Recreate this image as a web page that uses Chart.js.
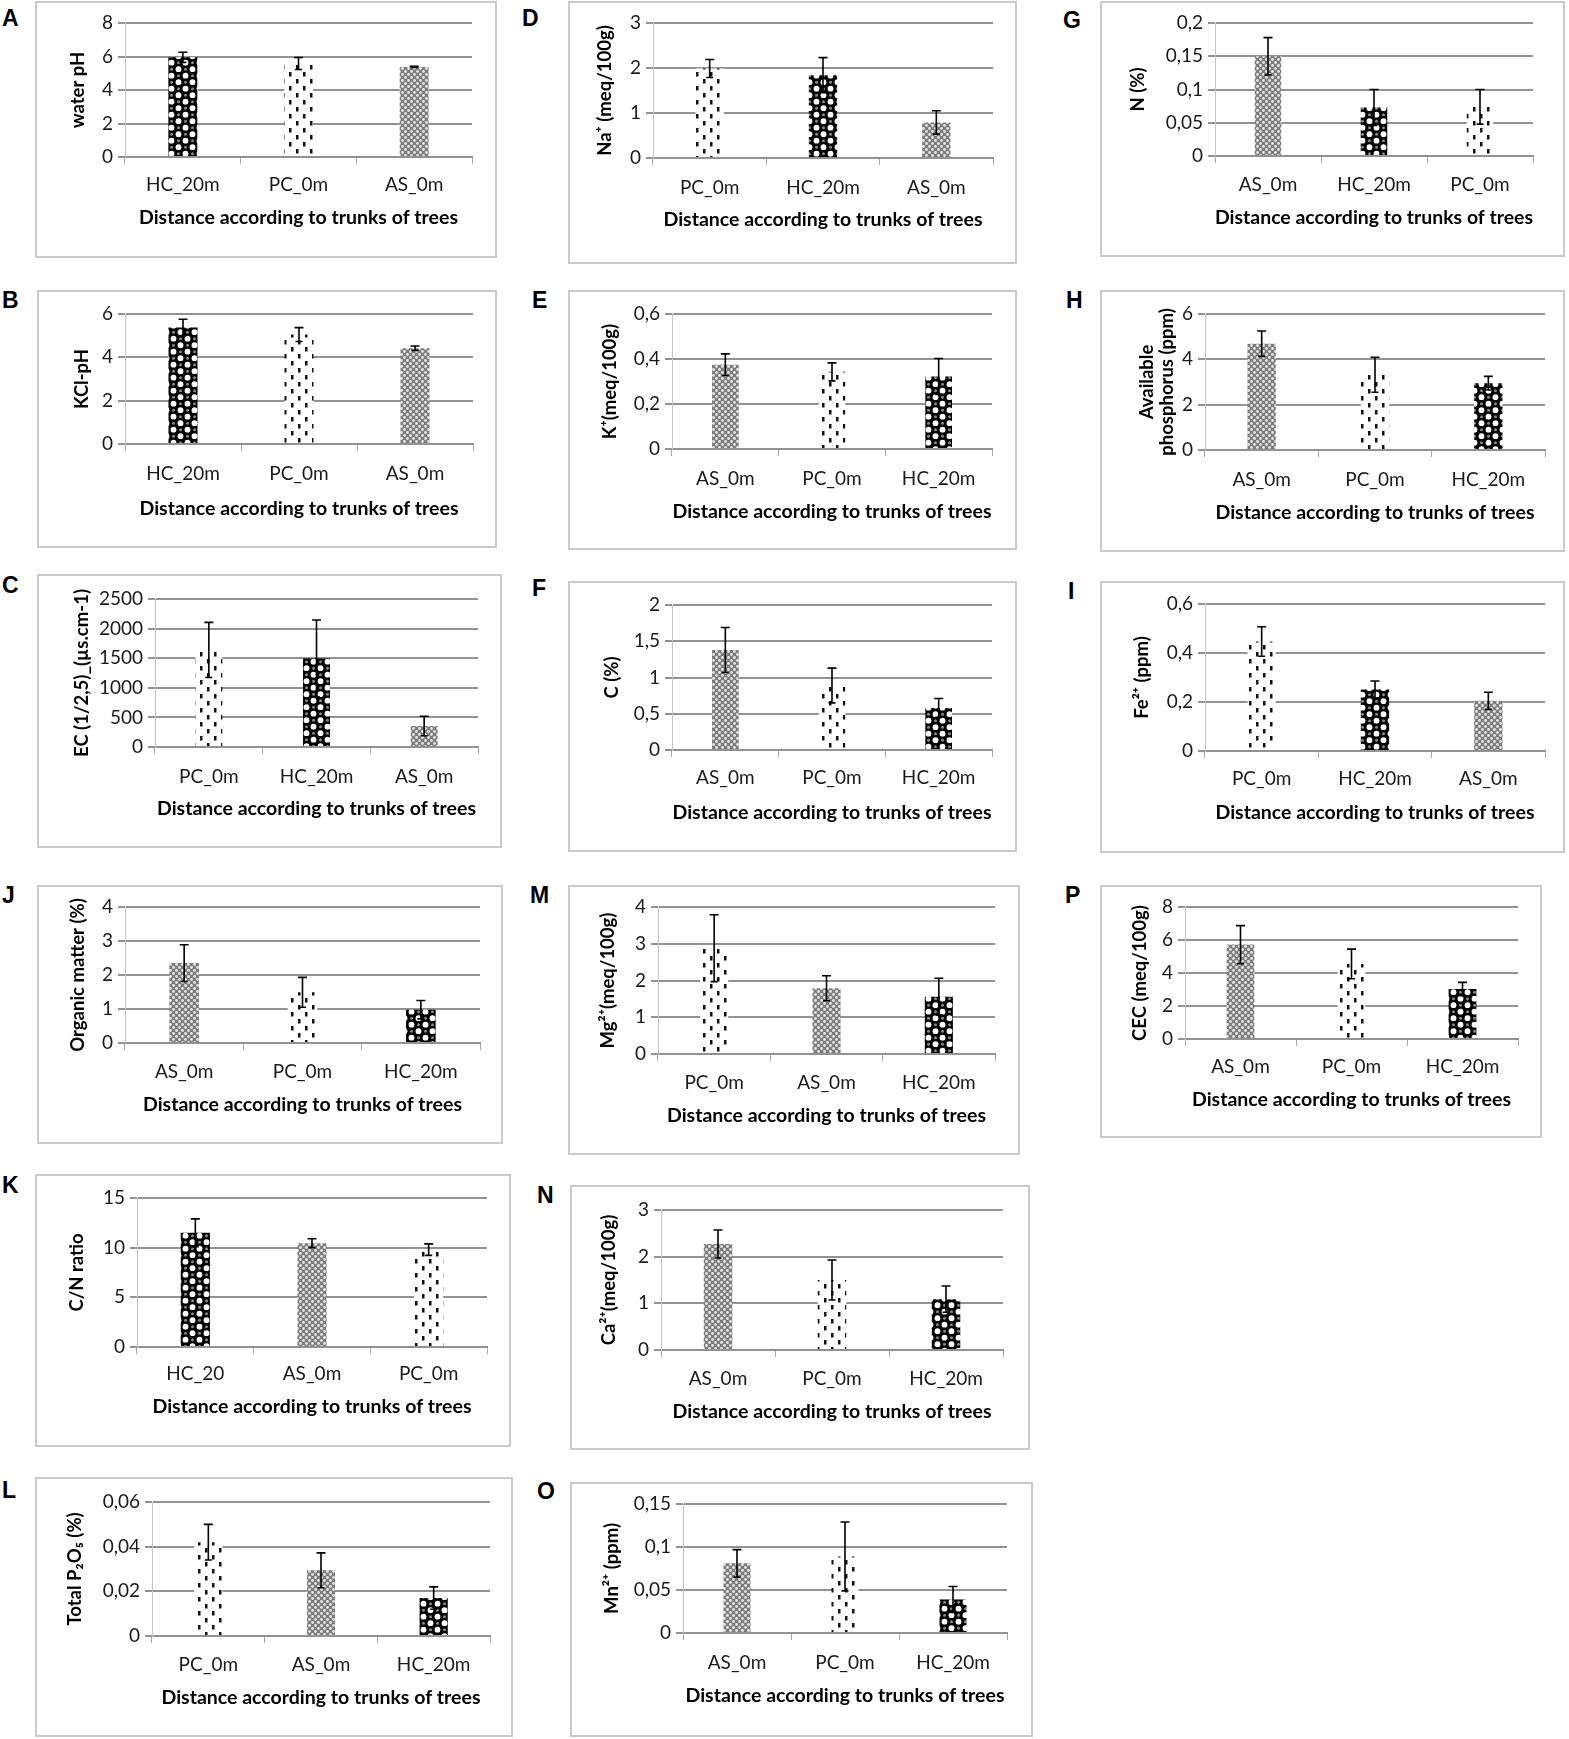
<!DOCTYPE html>
<html>
<head>
<meta charset="utf-8">
<script src="https://cdn.jsdelivr.net/npm/chart.js@4.4.1/dist/chart.umd.min.js"></script>
<style>
  body { margin: 0; background: #fff; width: 1569px; height: 1739px; position: relative; overflow: hidden; }
  .box { position: absolute; border: 2px solid #cacaca; box-sizing: border-box; }
  .box canvas { position: absolute; left: -2px; top: -2px; }
  .letter { position: absolute; font: bold 23px "Liberation Sans", Arial, sans-serif; color: #000; line-height: 1; }
</style>
</head>
<body>
<script>
// values: mean per site, error = +/- bar half length
const catsA = ['HC_20m', 'PC_0m', 'AS_0m'];
const valsA = [5.95, 5.58, 5.38];
const errsA = [0.3, 0.36, 0.04];
const yAxisA = [0, 8, 2];

const catsB = ['HC_20m', 'PC_0m', 'AS_0m'];
const valsB = [5.38, 5.05, 4.42];
const errsB = [0.38, 0.32, 0.1];
const yAxisB = [0, 6, 2];

const catsC = ['PC_0m', 'HC_20m', 'AS_0m'];
const valsC = [1640, 1495, 355];
const errsC = [465, 650, 165];
const yAxisC = [0, 2500, 500];

const catsD = ['PC_0m', 'HC_20m', 'AS_0m'];
const valsD = [1.99, 1.84, 0.79];
const errsD = [0.2, 0.39, 0.26];
const yAxisD = [0, 3, 1];

const catsE = ['AS_0m', 'PC_0m', 'HC_20m'];
const valsE = [0.375, 0.343, 0.322];
const errsE = [0.048, 0.04, 0.08];
const yAxisE = [0, 0.6, 0.2];

const catsF = ['AS_0m', 'PC_0m', 'HC_20m'];
const valsF = [1.38, 0.89, 0.58];
const errsF = [0.31, 0.24, 0.13];
const yAxisF = [0, 2, 0.5];

const catsG = ['AS_0m', 'HC_20m', 'PC_0m'];
const valsG = [0.15, 0.073, 0.074];
const errsG = [0.028, 0.027, 0.026];
const yAxisG = [0, 0.2, 0.05];

const catsH = ['AS_0m', 'PC_0m', 'HC_20m'];
const valsH = [4.69, 3.32, 2.95];
const errsH = [0.56, 0.77, 0.3];
const yAxisH = [0, 6, 2];

const catsI = ['PC_0m', 'HC_20m', 'AS_0m'];
const valsI = [0.447, 0.251, 0.205];
const errsI = [0.06, 0.035, 0.035];
const yAxisI = [0, 0.6, 0.2];

const catsJ = ['AS_0m', 'PC_0m', 'HC_20m'];
const valsJ = [2.35, 1.49, 0.98];
const errsJ = [0.54, 0.44, 0.27];
const yAxisJ = [0, 4, 1];

const catsK = ['HC_20', 'AS_0m', 'PC_0m'];
const valsK = [11.5, 10.45, 9.8];
const errsK = [1.4, 0.45, 0.58];
const yAxisK = [0, 15, 5];

const catsL = ['PC_0m', 'AS_0m', 'HC_20m'];
const valsL = [0.042, 0.0294, 0.017];
const errsL = [0.008, 0.0078, 0.005];
const yAxisL = [0, 0.06, 0.02];

const catsM = ['PC_0m', 'AS_0m', 'HC_20m'];
const valsM = [2.88, 1.79, 1.56];
const errsM = [0.91, 0.34, 0.5];
const yAxisM = [0, 4, 1];

const catsN = ['AS_0m', 'PC_0m', 'HC_20m'];
const valsN = [2.27, 1.5, 1.09];
const errsN = [0.3, 0.43, 0.28];
const yAxisN = [0, 3, 1];

const catsO = ['AS_0m', 'PC_0m', 'HC_20m'];
const valsO = [0.081, 0.089, 0.039];
const errsO = [0.016, 0.04, 0.015];
const yAxisO = [0, 0.15, 0.05];

const catsP = ['AS_0m', 'PC_0m', 'HC_20m'];
const valsP = [5.72, 4.55, 3.03];
const errsP = [1.15, 0.9, 0.4];
const yAxisP = [0, 8, 2];

const X_TITLE = 'Distance according to trunks of trees';

// box: [left, top, right, bottom], plot: [x0, x1, yTop, yBottom]
const panels = [
  { id: 'A', cats: catsA, vals: valsA, errs: errsA, axis: yAxisA, ylabel: 'water pH', box: [35, 1, 497, 258], plot: [125, 472, 23, 157], labelY: 185, titleY: 218, ylabelX: 78, letter: [2, 10] },
  { id: 'D', cats: catsD, vals: valsD, errs: errsD, axis: yAxisD, ylabel: 'Na\u207A (meq/100g)', box: [568, 1, 1017, 264], plot: [653, 993, 23, 158], labelY: 188, titleY: 220, ylabelX: 605, letter: [522, 10] },
  { id: 'G', cats: catsG, vals: valsG, errs: errsG, axis: yAxisG, ylabel: 'N (%)', box: [1100, 1, 1565, 257], plot: [1215, 1533, 23, 156], labelY: 185, titleY: 218, ylabelX: 1138, letter: [1063, 12] },

  { id: 'B', cats: catsB, vals: valsB, errs: errsB, axis: yAxisB, ylabel: 'KCl-pH', box: [37, 290, 497, 548], plot: [125, 473, 314, 444], labelY: 474, titleY: 509, ylabelX: 82, letter: [2, 292] },
  { id: 'E', cats: catsE, vals: valsE, errs: errsE, axis: yAxisE, ylabel: 'K\u207A(meq/100g)', box: [568, 290, 1017, 550], plot: [672, 992, 314, 449], labelY: 479, titleY: 512, ylabelX: 610, letter: [532, 292] },
  { id: 'H', cats: catsH, vals: valsH, errs: errsH, axis: yAxisH, ylabel: ['Available', 'phosphorus (ppm)'], box: [1100, 290, 1565, 552], plot: [1205, 1545, 314, 450], labelY: 480, titleY: 513, ylabelX: 1147, letter: [1066, 292] },

  { id: 'C', cats: catsC, vals: valsC, errs: errsC, axis: yAxisC, ylabel: 'EC (1/2,5)_(\u00B5s.cm-1)', box: [37, 574, 502, 848], plot: [155, 478, 599, 747], labelY: 777, titleY: 809, ylabelX: 82, letter: [2, 577] },
  { id: 'F', cats: catsF, vals: valsF, errs: errsF, axis: yAxisF, ylabel: 'C (%)', box: [568, 581, 1017, 852], plot: [672, 992, 605, 750], labelY: 778, titleY: 813, ylabelX: 612, letter: [532, 580] },
  { id: 'I', cats: catsI, vals: valsI, errs: errsI, axis: yAxisI, ylabel: 'Fe\u00B2\u207A (ppm)', box: [1100, 581, 1565, 853], plot: [1205, 1545, 604, 751], labelY: 779, titleY: 813, ylabelX: 1142, letter: [1068, 583] },

  { id: 'J', cats: catsJ, vals: valsJ, errs: errsJ, axis: yAxisJ, ylabel: 'Organic matter (%)', box: [37, 885, 503, 1144], plot: [125, 480, 907, 1043], labelY: 1072, titleY: 1105, ylabelX: 78, letter: [2, 887] },
  { id: 'M', cats: catsM, vals: valsM, errs: errsM, axis: yAxisM, ylabel: 'Mg\u00B2\u207A(meq/100g)', box: [568, 885, 1020, 1155], plot: [658, 995, 907, 1054], labelY: 1083, titleY: 1116, ylabelX: 608, letter: [530, 887] },
  { id: 'P', cats: catsP, vals: valsP, errs: errsP, axis: yAxisP, ylabel: 'CEC (meq/100g)', box: [1100, 885, 1542, 1138], plot: [1185, 1518, 907, 1039], labelY: 1067, titleY: 1100, ylabelX: 1140, letter: [1065, 887] },

  { id: 'K', cats: catsK, vals: valsK, errs: errsK, axis: yAxisK, ylabel: 'C/N ratio', box: [35, 1174, 511, 1447], plot: [137, 487, 1198, 1347], labelY: 1374, titleY: 1407, ylabelX: 77, letter: [2, 1177] },
  { id: 'N', cats: catsN, vals: valsN, errs: errsN, axis: yAxisN, ylabel: 'Ca\u00B2\u207A(meq/100g)', box: [570, 1185, 1030, 1450], plot: [661, 1003, 1210, 1350], labelY: 1379, titleY: 1412, ylabelX: 609, letter: [537, 1187] },

  { id: 'L', cats: catsL, vals: valsL, errs: errsL, axis: yAxisL, ylabel: 'Total P\u2082O\u2085 (%)', box: [35, 1477, 513, 1737], plot: [152, 490, 1502, 1636], labelY: 1665, titleY: 1698, ylabelX: 75, letter: [2, 1482] },
  { id: 'O', cats: catsO, vals: valsO, errs: errsO, axis: yAxisO, ylabel: 'Mn\u00B2\u207A (ppm)', box: [570, 1482, 1033, 1737], plot: [683, 1007, 1504, 1633], labelY: 1663, titleY: 1696, ylabelX: 612, letter: [537, 1483] },
];

const TICK_SIZE = 19;
const TITLE_SIZE = 19.5;
const YTITLE_SIZE = 18.5;
const TICK_LEN = 7;

function makePattern(kind) {
  const c = document.createElement('canvas');
  const g = c.getContext('2d');
  if (kind === 'HC') {
    c.width = 14; c.height = 13;
    g.fillStyle = '#000'; g.fillRect(0, 0, 14, 13);
    g.fillStyle = '#fff';
    g.beginPath(); g.arc(3.5, 3.2, 2.9, 0, Math.PI * 2); g.fill();
    g.beginPath(); g.arc(10.5, 9.7, 2.9, 0, Math.PI * 2); g.fill();
    g.fillStyle = '#888';
    g.beginPath(); g.arc(10.5, 3.2, 1.5, 0, Math.PI * 2); g.fill();
    g.beginPath(); g.arc(3.5, 9.7, 1.5, 0, Math.PI * 2); g.fill();
  } else if (kind === 'PC') {
    c.width = 14; c.height = 14;
    g.fillStyle = '#fff'; g.fillRect(0, 0, 14, 14);
    g.fillStyle = '#111';
    g.fillRect(2, 1, 2.5, 4.5);
    g.fillRect(9, 8, 2.5, 4.5);
  } else {
    c.width = 6; c.height = 6;
    g.fillStyle = '#7d7d7d'; g.fillRect(0, 0, 6, 6);
    g.fillStyle = '#e6e6e6';
    g.beginPath(); g.arc(1.5, 1.5, 1.4, 0, Math.PI * 2); g.fill();
    g.beginPath(); g.arc(4.5, 4.5, 1.4, 0, Math.PI * 2); g.fill();
  }
  return g.createPattern(c, 'repeat');
}

const patterns = { HC: makePattern('HC'), PC: makePattern('PC'), AS: makePattern('AS') };

function fmt(v) {
  return String(Number(v.toFixed(4))).replace('.', ',');
}

const errorBars = {
  id: 'errorBars',
  afterDatasetsDraw(chart) {
    const { ctx, scales: { y } } = chart;
    const ds = chart.data.datasets[0];
    const meta = chart.getDatasetMeta(0);
    ctx.save();
    ctx.strokeStyle = '#000';
    ctx.lineWidth = 1.6;
    meta.data.forEach((bar, i) => {
      const top = y.getPixelForValue(ds.data[i] + ds.errors[i]);
      const bot = y.getPixelForValue(ds.data[i] - ds.errors[i]);
      ctx.beginPath();
      ctx.moveTo(bar.x, top); ctx.lineTo(bar.x, bot);
      ctx.moveTo(bar.x - 4.5, top); ctx.lineTo(bar.x + 4.5, top);
      ctx.moveTo(bar.x - 3.5, bot); ctx.lineTo(bar.x + 3.5, bot);
      ctx.stroke();
    });
    ctx.restore();
  }
};

function drawPanel(p) {
  const [bl, bt, br, bb] = p.box;
  const [x0, x1, yt, yb] = p.plot;
  const w = br - bl, h = bb - bt;

  const box = document.createElement('div');
  box.className = 'box';
  box.style.left = bl + 'px'; box.style.top = bt + 'px';
  box.style.width = w + 'px'; box.style.height = h + 'px';
  const canvas = document.createElement('canvas');
  canvas.width = w; canvas.height = h;
  canvas.style.width = w + 'px'; canvas.style.height = h + 'px';
  box.appendChild(canvas);
  document.body.appendChild(box);

  const letter = document.createElement('div');
  letter.className = 'letter';
  letter.textContent = p.id;
  letter.style.left = p.letter[0] + 'px';
  letter.style.top = (p.letter[1] - 3) + 'px';
  document.body.appendChild(letter);

  const titleLH = TITLE_SIZE * 1.2;
  const yTitleLH = YTITLE_SIZE * 1.1;
  const tickLH = TICK_SIZE * 1.2;
  const xAxisH = p.titleY - yb + titleLH / 2;
  const padLeft = p.ylabelX - bl - yTitleLH / 2;
  const yAxisW = x0 - bl - padLeft;
  const padBottom = h - (yb - bt) - xAxisH;
  const xTickPad = p.labelY - yb - TICK_LEN - tickLH / 2;

  new Chart(canvas, {
    type: 'bar',
    data: {
      labels: p.cats,
      datasets: [{
        data: p.vals,
        errors: p.errs,
        backgroundColor: p.cats.map(c => patterns[c.slice(0, 2)]),
        borderWidth: 0,
        barPercentage: 0.25,
        categoryPercentage: 1
      }]
    },
    options: {
      responsive: false,
      animation: false,
      events: [],
      layout: { padding: { left: padLeft, top: yt - bt, right: br - x1, bottom: padBottom } },
      plugins: { legend: { display: false }, tooltip: { enabled: false } },
      scales: {
        x: {
          afterFit(scale) { scale.height = xAxisH; },
          grid: { display: true, drawOnChartArea: false, drawTicks: true, tickLength: TICK_LEN, color: '#a8a8a8', lineWidth: 1 },
          border: { display: true, color: '#929292', width: 2 },
          ticks: { color: '#1a1a1a', padding: xTickPad, maxRotation: 0, font: { family: 'Lato', size: TICK_SIZE, lineHeight: 1.2 } },
          title: { display: true, text: X_TITLE, color: '#000', padding: 0, font: { family: 'Lato', size: TITLE_SIZE, weight: 'bold', lineHeight: 1.2 } }
        },
        y: {
          min: p.axis[0],
          max: p.axis[1],
          afterFit(scale) { scale.width = yAxisW; },
          grid: { color: '#929292', lineWidth: 2, tickLength: TICK_LEN },
          border: { display: true, color: '#c4c4c4', width: 1 },
          ticks: { stepSize: p.axis[2], color: '#1a1a1a', padding: 5, callback: v => fmt(v), font: { family: 'Lato', size: TICK_SIZE, lineHeight: 1.2 } },
          title: { display: true, text: p.ylabel, color: '#000', padding: 0, font: { family: 'Lato', size: YTITLE_SIZE, weight: 'bold', lineHeight: 1.1 } }
        }
      }
    },
    plugins: [errorBars]
  });
}

panels.forEach(drawPanel);
</script>
</body>
</html>
